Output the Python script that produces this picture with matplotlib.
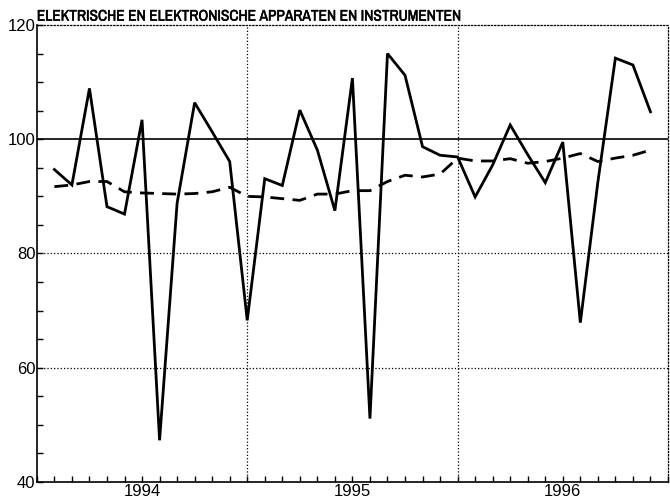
import matplotlib
matplotlib.use("Agg")
import matplotlib.pyplot as plt
import matplotlib.patheffects as pe
from matplotlib import font_manager
from matplotlib.ticker import MultipleLocator

# monthly index: 0 = start of 1994, 36 = end of 1996
months = list(range(1, 36))
actual = [94.7, 92.0, 108.9, 88.2, 86.9, 103.4, 47.3, 88.8, 106.4, 101.3, 96.1, 68.3,
          93.1, 91.9, 105.1, 98.1, 87.5, 110.7, 51.1, 115.0, 111.2, 98.7, 97.2, 96.9,
          89.9, 95.5, 102.5, 97.3, 92.4, 99.5, 67.9, 92.5, 114.2, 113.0, 104.8]
trend = [91.7, 92.0, 92.6, 92.6, 90.8, 90.6, 90.5, 90.4, 90.5, 90.8, 91.6, 90.0,
         89.9, 89.6, 89.3, 90.4, 90.4, 91.0, 91.0, 92.6, 93.7, 93.4, 93.9, 96.7,
         96.2, 96.2, 96.6, 95.8, 96.1, 96.7, 97.5, 96.1, 96.7, 97.2, 98.1]
years = ["1994", "1995", "1996"]
year_mid = [6, 18, 30]
title = "ELEKTRISCHE EN ELEKTRONISCHE APPARATEN EN INSTRUMENTEN"

plt.rcParams['font.family'] = ['Liberation Sans', 'DejaVu Sans']

# look for a narrow face for the title, the original uses a condensed grotesk
narrow = None
for f in font_manager.fontManager.ttflist:
    if 'Narrow' in f.name or 'Condensed' in f.name:
        narrow = f.name
        break
if narrow:
    title_font = dict(family=[narrow, 'Liberation Sans'], fontsize=11.1)
else:
    title_font = dict(family=['Liberation Sans'], fontsize=9.3)

fig = plt.figure(figsize=(6.7, 5.0), dpi=100)
ax = fig.add_axes([0.055, 0.036, 0.942, 0.914])

ax.set_xlim(0, 36)
ax.set_ylim(40, 120)

# grid
for v in [60, 80]:
    ax.axhline(v, color='black', linestyle=':', linewidth=0.9, zorder=1)
for m in [12, 24]:
    ax.axvline(m, color='black', linestyle=':', linewidth=0.9, zorder=1)
ax.axhline(100, color='black', linewidth=1.2, zorder=2)

ax.plot(months, actual, color='black', linewidth=2.0, solid_joinstyle='miter', zorder=3)
ax.plot(months, trend, color='black', linewidth=2.0, dashes=(5, 3), zorder=3)

ax.spines['top'].set_linestyle(':')
ax.spines['right'].set_linestyle(':')
for s in ['top', 'right']:
    ax.spines[s].set_linewidth(0.9)
for s in ['left', 'bottom']:
    ax.spines[s].set_linewidth(1.2)

ax.xaxis.set_major_locator(MultipleLocator(1))
ax.set_xticklabels([])
ax.tick_params(axis='x', direction='in', length=4, width=1)
ax.yaxis.set_major_locator(MultipleLocator(20))
ax.yaxis.set_minor_locator(MultipleLocator(5))
ax.tick_params(axis='y', which='major', direction='in', length=4, width=1,
               labelsize=12, pad=1)
ax.tick_params(axis='y', which='minor', direction='in', length=4, width=1)

for lab, m in zip(years, year_mid):
    ax.text(m, -0.004, lab, transform=ax.get_xaxis_transform(), ha='center',
            va='top', fontsize=12)

t = ax.text(0.0, 1.003, title, transform=ax.transAxes, ha='left', va='bottom',
            **title_font)
t.set_path_effects([pe.withStroke(linewidth=0.35, foreground='black')])

fig.savefig("out.png", dpi=100)
